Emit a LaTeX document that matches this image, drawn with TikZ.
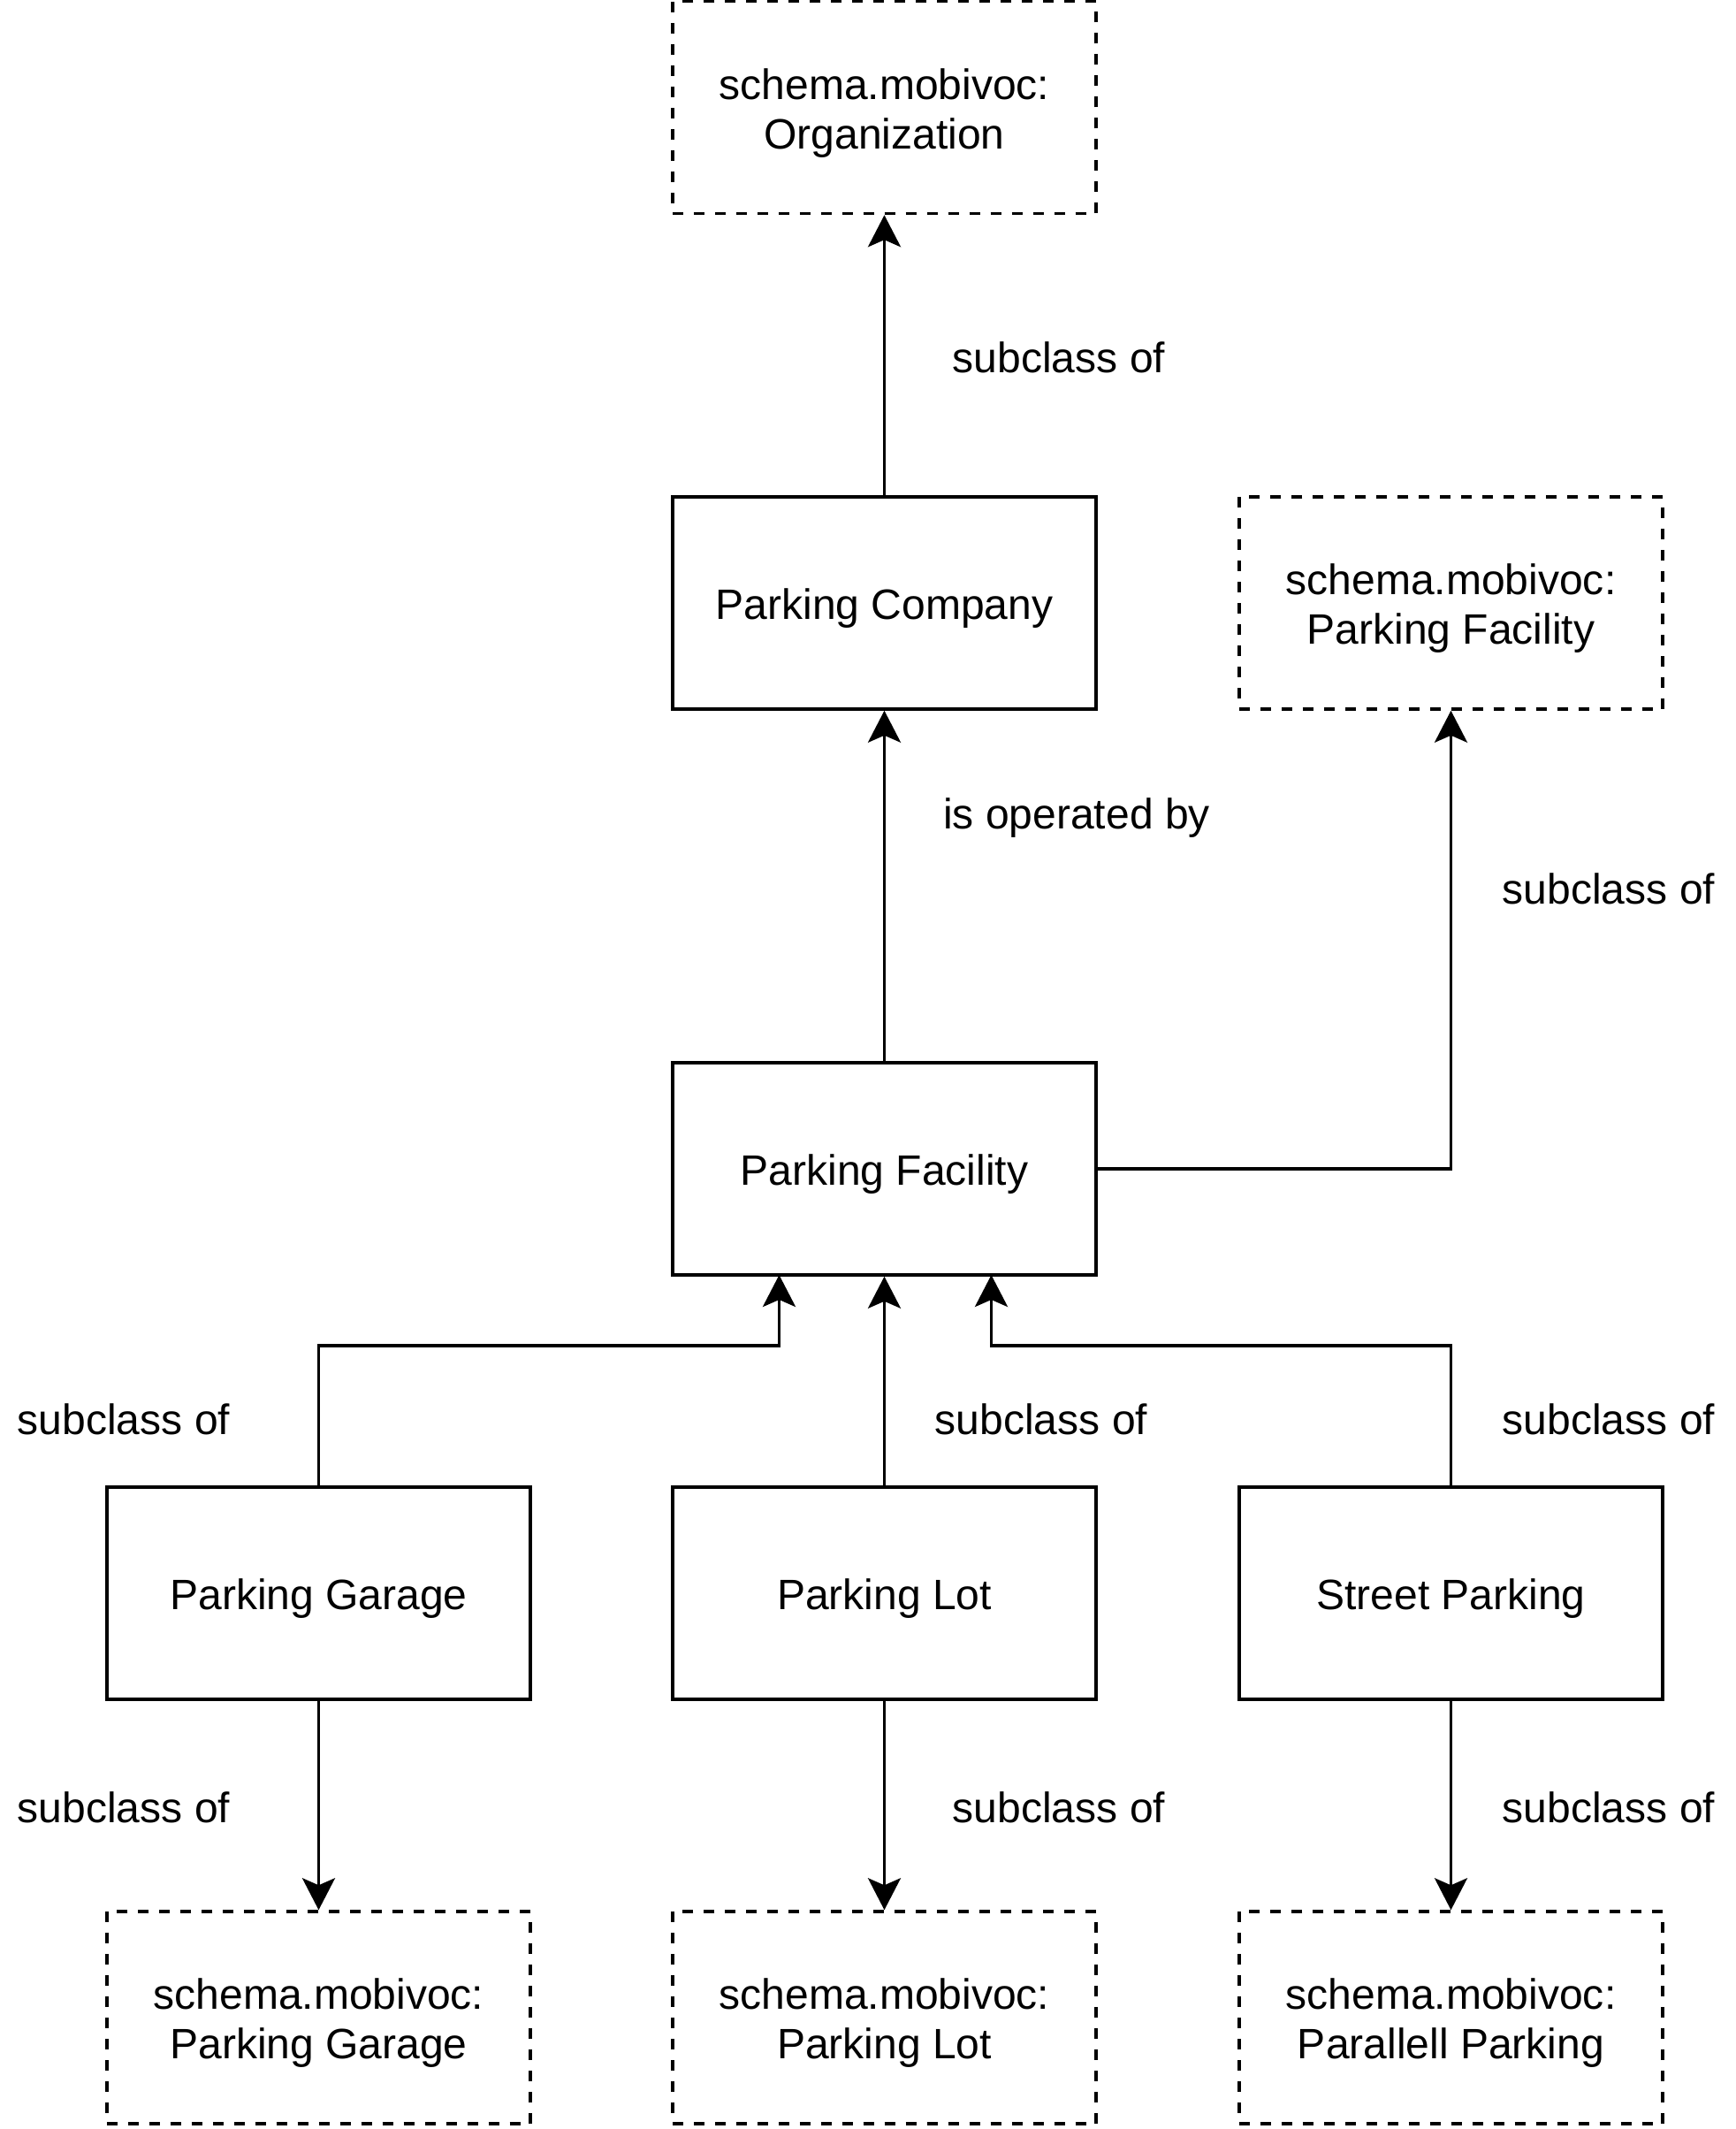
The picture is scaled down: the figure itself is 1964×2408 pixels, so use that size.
\documentclass[tikz,border=0pt]{standalone}
\usepackage{fontspec}
\setmainfont{Liberation Sans}
\usetikzlibrary{arrows.meta}
\newcommand\diagbox[4]{%
  \node[#1] (#2) at (#3) {};
  \node[boxtext] (#2t) at ([yshift=-0.065cm]#2.center) {#4};}
\begin{document}
\begin{tikzpicture}[x=0.01cm,y=-0.01cm,
  every node/.style={font=\fontsize{13.66pt}{15.9pt}\selectfont, inner sep=0pt},
  boxtext/.style={align=center},
  solidbox/.style={draw, line width=0.95pt, minimum width=4.79cm, minimum height=2.40cm},
  dashbox/.style={solidbox, dash pattern=on 3.41pt off 3.41pt},
  conn/.style={line width=0.95pt, -{Stealth[length=0.36cm,width=0.37cm,inset=0.08cm]}},
  lbl/.style={anchor=center}]
\useasboundingbox (0,0) rectangle (1964,2408);
% nodes
\diagbox{dashbox}{org}{1000.5,121.5}{schema.mobivoc:\\Organization}
\diagbox{solidbox}{pc}{1000.5,682}{Parking Company}
\diagbox{dashbox}{spf}{1641.5,682}{schema.mobivoc:\\Parking Facility}
\diagbox{solidbox}{pf}{1000.5,1322}{Parking Facility}
\diagbox{solidbox}{pg}{360.5,1802}{Parking Garage}
\diagbox{solidbox}{pl}{1000.5,1802}{Parking Lot}
\diagbox{solidbox}{sp}{1641.5,1802}{Street Parking}
\diagbox{dashbox}{spg}{360.5,2282}{schema.mobivoc:\\Parking Garage}
\diagbox{dashbox}{spl}{1000.5,2282}{schema.mobivoc:\\Parking Lot}
\diagbox{dashbox}{spp}{1641.5,2282}{schema.mobivoc:\\Parallell Parking}
% coordinates
\coordinate (pfl) at (881.5,1442);
\coordinate (pfr) at (1121.5,1442);
% connectors
\draw[conn] (pc.north) -- (org.south);
\draw[conn] (pf.north) -- (pc.south);
\draw[conn] (pf.east) -| (spf.south);
\draw[conn] (pg.north) |- (881.5,1522) -- (pfl);
\draw[conn] (pl.north) -- (pf.south);
\draw[conn] (sp.north) |- (1121.5,1522) -- (pfr);
\draw[conn] (pg.south) -- (spg.north);
\draw[conn] (pl.south) -- (spl.north);
\draw[conn] (sp.south) -- (spp.north);
% labels
\node[lbl] (l1) at (1198,404) {subclass of};
\node[lbl] (l2) at (1218,925) {is operated by};
\node[lbl] (l3) at (1820,1005) {subclass of};
\node[lbl] (l4) at (140,1605) {subclass of};
\node[lbl] (l5) at (1178,1605) {subclass of};
\node[lbl] (l6) at (1820,1605) {subclass of};
\node[lbl] (l7) at (140,2044) {subclass of};
\node[lbl] (l8) at (1198,2044) {subclass of};
\node[lbl] (l9) at (1820,2044) {subclass of};
\end{tikzpicture}
\end{document}
